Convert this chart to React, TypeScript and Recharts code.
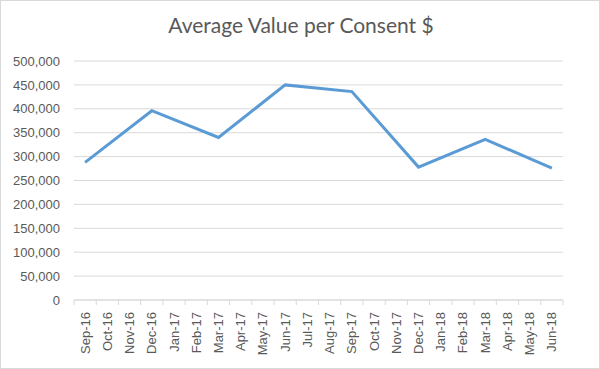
import React from 'react';
import { LineChart, Line, XAxis, YAxis, CartesianGrid } from 'recharts';

const months = [
  'Sep-16', 'Oct-16', 'Nov-16', 'Dec-16', 'Jan-17', 'Feb-17', 'Mar-17', 'Apr-17',
  'May-17', 'Jun-17', 'Jul-17', 'Aug-17', 'Sep-17', 'Oct-17', 'Nov-17', 'Dec-17',
  'Jan-18', 'Feb-18', 'Mar-18', 'Apr-18', 'May-18', 'Jun-18',
];
const values: (number | null)[] = [
  288000, null, null, 396000, null, null, 340000, null,
  null, 450000, null, null, 436000, null, null, 278000,
  null, null, 336000, null, null, 276000,
];
const yTicks = [0, 50000, 100000, 150000, 200000, 250000, 300000, 350000, 400000, 450000, 500000];

const data = months.map((m, i) => ({ month: m, value: values[i] }));

const W = 600;
const H = 369;
const M = { top: 61, right: 37, bottom: 9, left: 0 };
const Y_W = 74;
const X_H = 60;
const BW = (W - M.left - M.right - Y_W) / months.length;

const fmt = (v: number) => v.toLocaleString('en-US');

const XTick = (props: any) => {
  const { x, y, payload, index } = props;
  return (
    <g>
      <line x1={x - BW / 2} x2={x - BW / 2} y1={y} y2={y + 5} stroke="#d9d9d9" />
      {index === months.length - 1 && (
        <line x1={x + BW / 2} x2={x + BW / 2} y1={y} y2={y + 5} stroke="#d9d9d9" />
      )}
      <text
        x={x}
        y={y + 12}
        transform={`rotate(-90, ${x}, ${y + 12})`}
        textAnchor="end"
        dominantBaseline="central"
        fill="#595959"
        fontSize={13}
        fontFamily="Liberation Sans, Arial, sans-serif"
      >
        {payload.value}
      </text>
    </g>
  );
};

export default function App() {
  return (
    <div
      style={{
        position: 'absolute',
        left: 0,
        top: 0,
        width: W,
        height: H,
        boxSizing: 'border-box',
        border: '1px solid #d9d9d9',
        background: '#fff',
      }}
    >
      <div
        style={{
          position: 'absolute',
          left: 0,
          top: 11,
          width: W,
          textAlign: 'center',
          fontFamily: 'Lato, sans-serif',
          fontSize: 21,
          color: '#595959',
        }}
      >
        Average Value per Consent $
      </div>
      <div style={{ position: 'absolute', left: -1, top: -1 }}>
        <LineChart width={W} height={H} data={data} margin={M}>
          <CartesianGrid vertical={false} stroke="#d9d9d9" />
          <XAxis
            dataKey="month"
            scale="band"
            interval={0}
            height={X_H}
            tickLine={false}
            tickSize={0}
            tickMargin={0}
            stroke="#d9d9d9"
            tick={<XTick />}
          />
          <YAxis
            width={Y_W}
            domain={[0, 500000]}
            ticks={yTicks}
            tickFormatter={fmt}
            axisLine={false}
            tickLine={false}
            tickSize={6}
            tickMargin={8}
            tick={{ fill: '#595959', fontSize: 13, fontFamily: 'Liberation Sans, Arial, sans-serif' }}
          />
          <Line
            type="linear"
            dataKey="value"
            stroke="#5b9bd5"
            strokeWidth={3}
            dot={false}
            connectNulls
            isAnimationActive={false}
          />
        </LineChart>
      </div>
    </div>
  );
}
